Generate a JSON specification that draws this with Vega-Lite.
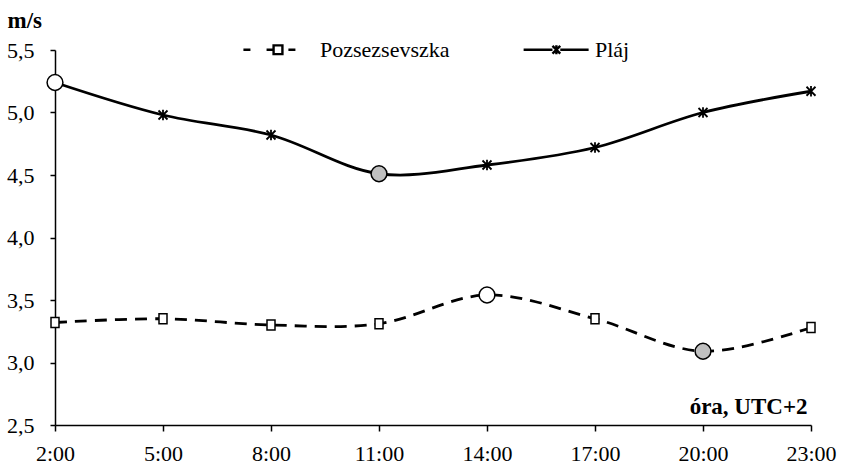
{
  "$schema": "https://vega.github.io/schema/vega-lite/v6.json",
  "width": 756,
  "height": 375,
  "autosize": {"type": "none"},
  "padding": {"left": 55, "top": 50, "right": 31, "bottom": 41},
  "background": "white",
  "config": {
    "view": {"stroke": null},
    "font": "Liberation Serif",
    "axis": {
      "labelFont": "Liberation Serif",
      "labelColor": "black",
      "titleFont": "Liberation Serif",
      "titleColor": "black",
      "domainColor": "black",
      "domainWidth": 1.5,
      "tickColor": "black",
      "tickWidth": 1.5,
      "grid": false
    }
  },
  "data": {
    "values": [
      {"hour": "2:00", "series": "Pozsezsevszka", "value": 3.32, "ext": ""},
      {"hour": "5:00", "series": "Pozsezsevszka", "value": 3.35, "ext": ""},
      {"hour": "8:00", "series": "Pozsezsevszka", "value": 3.30, "ext": ""},
      {"hour": "11:00", "series": "Pozsezsevszka", "value": 3.31, "ext": ""},
      {"hour": "14:00", "series": "Pozsezsevszka", "value": 3.54, "ext": "max"},
      {"hour": "17:00", "series": "Pozsezsevszka", "value": 3.35, "ext": ""},
      {"hour": "20:00", "series": "Pozsezsevszka", "value": 3.09, "ext": "min"},
      {"hour": "23:00", "series": "Pozsezsevszka", "value": 3.28, "ext": ""},
      {"hour": "2:00", "series": "Pláj", "value": 5.24, "ext": "max"},
      {"hour": "5:00", "series": "Pláj", "value": 4.98, "ext": ""},
      {"hour": "8:00", "series": "Pláj", "value": 4.82, "ext": ""},
      {"hour": "11:00", "series": "Pláj", "value": 4.51, "ext": "min"},
      {"hour": "14:00", "series": "Pláj", "value": 4.58, "ext": ""},
      {"hour": "17:00", "series": "Pláj", "value": 4.72, "ext": ""},
      {"hour": "20:00", "series": "Pláj", "value": 5.00, "ext": ""},
      {"hour": "23:00", "series": "Pláj", "value": 5.17, "ext": ""}
    ]
  },
  "encoding": {
    "x": {
      "field": "hour",
      "type": "ordinal",
      "sort": ["2:00", "5:00", "8:00", "11:00", "14:00", "17:00", "20:00", "23:00"],
      "scale": {"type": "point", "padding": 0},
      "axis": {
        "labelAngle": 0,
        "labelFontSize": 22,
        "labelPadding": 12,
        "tickSize": 6,
        "title": "óra, UTC+2",
        "titleFontSize": 23,
        "titleFontWeight": "bold",
        "titleAnchor": null,
        "titleAlign": "right",
        "titleBaseline": "alphabetic",
        "titleX": 752,
        "titleY": -12
      }
    },
    "y": {
      "field": "value",
      "type": "quantitative",
      "scale": {"domain": [2.5, 5.5], "nice": false, "zero": false},
      "axis": {
        "values": [2.5, 3.0, 3.5, 4.0, 4.5, 5.0, 5.5],
        "labelExpr": "replace(format(datum.value, '.1f'), '.', ',')",
        "labelFontSize": 22,
        "labelPadding": 16,
        "tickSize": 5,
        "title": "m/s",
        "titleAngle": 0,
        "titleFontSize": 23,
        "titleFontWeight": "bold",
        "titleAnchor": null,
        "titleAlign": "left",
        "titleBaseline": "alphabetic",
        "titleX": -48,
        "titleY": -23
      }
    }
  },
  "layer": [
    {
      "transform": [{"filter": "datum.series === 'Pozsezsevszka'"}],
      "mark": {"type": "line", "interpolate": "catmull-rom", "strokeWidth": 2.8, "strokeDash": [12, 8]},
      "encoding": {
        "color": {
          "field": "series",
          "type": "nominal",
          "scale": {"domain": ["Pozsezsevszka", "Pláj"], "range": ["black", "black"]},
          "legend": {
            "title": null,
            "orient": "none",
            "direction": "horizontal",
            "legendX": 189,
            "legendY": -28,
            "labelFont": "Liberation Serif",
            "labelFontSize": 22,
            "labelColor": "black",
            "symbolSize": 2704,
            "labelOffset": 21,
            "columnPadding": 68,
            "encode": {
              "symbols": {
                "update": {
                  "shape": {"signal": "datum.value === 'Pláj' ? 'M-0.88,0H0.23M0.53,0H1.62M0.23,-0.15L0.53,0.15M0.23,0.15L0.53,-0.15M0.38,-0.17V0.17' : 'M-1.08,0H-0.81M-0.19,0H0.08M0.65,0H0.92M0.08,-0.17H0.42V0.17H0.08Z'"},
                  "fill": {"value": "white"},
                  "stroke": {"value": "black"},
                  "strokeWidth": {"value": 2.4},
                  "strokeDash": {"value": []}
                }
              }
            }
          }
        }
      }
    },
    {
      "transform": [{"filter": "datum.series === 'Pláj'"}],
      "mark": {"type": "line", "interpolate": "catmull-rom", "strokeWidth": 2.8},
      "encoding": {
        "color": {"field": "series", "type": "nominal"}
      }
    },
    {
      "transform": [{"filter": "datum.series === 'Pozsezsevszka' && datum.ext === ''"}],
      "mark": {"type": "point", "shape": "M-0.8,-1H0.8V1H-0.8Z", "size": 100, "filled": true, "fill": "white", "stroke": "black", "strokeWidth": 1.5, "opacity": 1}
    },
    {
      "transform": [{"filter": "datum.series === 'Pláj' && datum.ext === ''"}],
      "mark": {"type": "point", "shape": "M-1,-1L1,1M-1,1L1,-1M0,-1.15V1.15", "size": 81, "filled": false, "stroke": "black", "strokeWidth": 1.8, "opacity": 1}
    },
    {
      "transform": [{"filter": "datum.ext !== ''"}],
      "mark": {"type": "point", "shape": "circle", "size": 250, "filled": true, "stroke": "black", "strokeWidth": 1.5, "opacity": 1},
      "encoding": {
        "fill": {
          "field": "ext",
          "type": "nominal",
          "scale": {"domain": ["max", "min"], "range": ["white", "#c0c0c0"]},
          "legend": null
        }
      }
    }
  ]
}
